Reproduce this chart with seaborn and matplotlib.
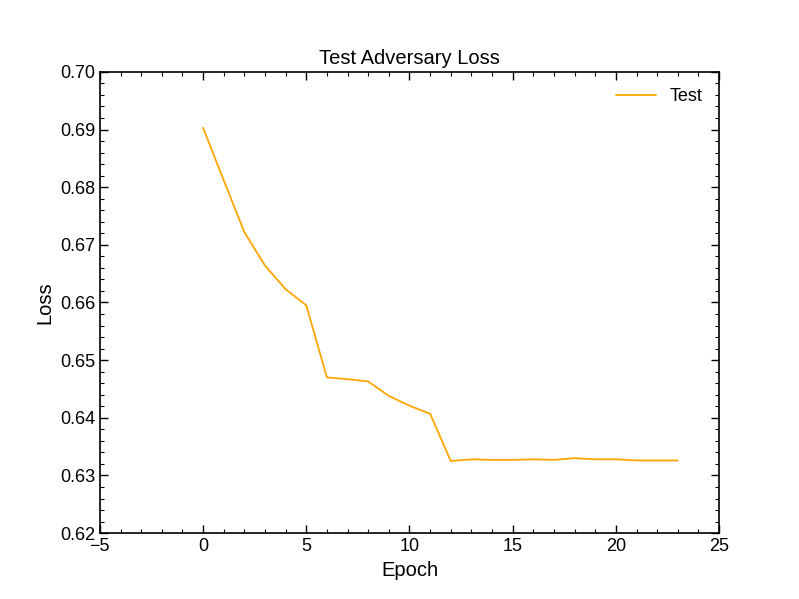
import numpy as np
import pandas as pd
import matplotlib
matplotlib.use("Agg")
import matplotlib.pyplot as plt
from matplotlib.ticker import MultipleLocator
import seaborn as sns

# test adversary loss per epoch
epochs = list(range(24))
test_loss = [0.6903, 0.6812, 0.6722, 0.6664, 0.6623, 0.6595,
             0.6470, 0.6467, 0.6463, 0.6438, 0.6421, 0.6407,
             0.6325, 0.6328, 0.6327, 0.6327, 0.6328, 0.6327,
             0.6330, 0.6328, 0.6328, 0.6326, 0.6326, 0.6326]

df = pd.DataFrame({"epoch": epochs, "loss": test_loss})

sns.set_style("ticks")
plt.rcParams['font.family'] = ['Liberation Sans', 'DejaVu Sans']
plt.rcParams['text.color'] = 'black'
plt.rcParams['axes.labelcolor'] = 'black'
plt.rcParams['axes.edgecolor'] = 'black'
plt.rcParams['xtick.color'] = 'black'
plt.rcParams['ytick.color'] = 'black'

fig, ax = plt.subplots(figsize=(7.99, 5.99), dpi=100)
sns.lineplot(data=df, x="epoch", y="loss", ax=ax, color="#FFA500",
             linewidth=1.3, label="Test")

ax.set_xlim(-5, 25)
ax.set_ylim(0.62, 0.70)
ax.xaxis.set_major_locator(MultipleLocator(5))
ax.xaxis.set_minor_locator(MultipleLocator(1))
ax.yaxis.set_major_locator(MultipleLocator(0.01))
ax.yaxis.set_minor_locator(MultipleLocator(0.002))
ax.yaxis.set_major_formatter(matplotlib.ticker.FormatStrFormatter('%.2f'))
ax.tick_params(which='both', direction='in', top=True, right=True,
               labelsize=13, colors='black')
ax.tick_params(which='major', length=6, width=1)
ax.tick_params(which='minor', length=3, width=0.8)
for s in ax.spines.values():
    s.set_linewidth(1.2)
    s.set_color('black')

ax.set_xlabel("Epoch", fontsize=14.5, color='black')
ax.set_ylabel("Loss", fontsize=14.5, color='black')
ax.set_title("Test Adversary Loss", fontsize=14.5, color='black')
ax.legend(frameon=False, loc='upper right', fontsize=13, handlelength=2.2)

fig.savefig("out.png", dpi=100)
